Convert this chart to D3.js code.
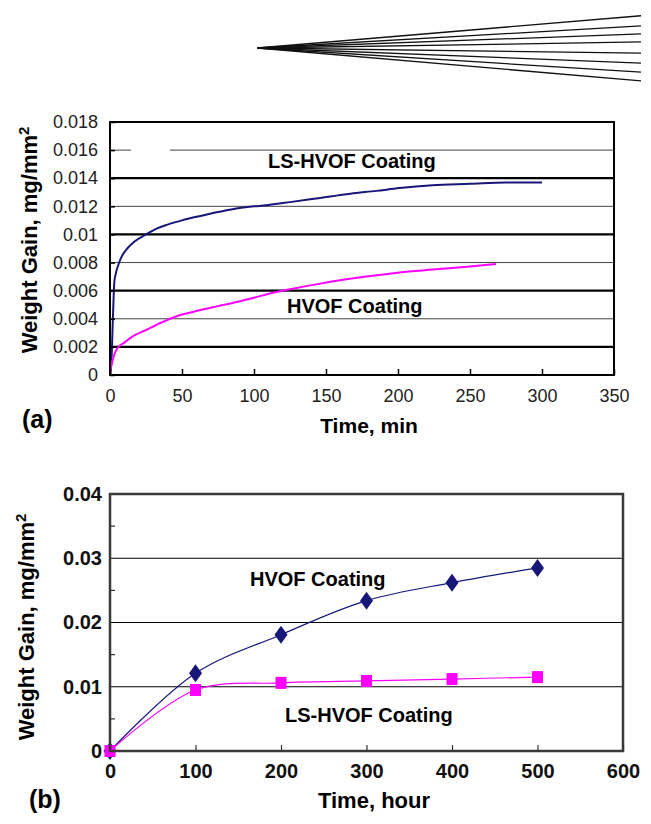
<!DOCTYPE html>
<html>
<head>
<meta charset="utf-8">
<script src="https://cdn.jsdelivr.net/npm/d3@7"></script>
<style>
  body { margin: 0; background: #fff; }
  svg { display: block; font-family: "Liberation Sans", Arial, sans-serif; }
</style>
</head>
<body>
<div class="canvas"></div>
<script>
// Panel (a): weight gain during the first minutes
const lsTimeA = [0, 1, 2, 2.5, 3, 4, 6, 8, 12, 17, 25, 32, 40, 50, 62, 75, 85, 100, 110, 125, 146, 167, 185, 201, 224, 250, 275, 300];
const lsGainA = [0, 0.001, 0.004, 0.0055, 0.0066, 0.0072, 0.0079, 0.0084, 0.009, 0.0095, 0.01, 0.0104, 0.0107, 0.011, 0.0113, 0.0116, 0.0118, 0.012, 0.0121, 0.0123, 0.0126, 0.0129, 0.0131, 0.0133, 0.0135, 0.0136, 0.0137, 0.0137];
const hvTimeA = [0, 1, 2, 3.5, 6, 10, 15, 25, 35, 50, 62, 75, 88, 100, 111, 125, 146, 178, 201, 224, 248, 268];
const hvGainA = [0, 0.0007, 0.0011, 0.0016, 0.002, 0.0023, 0.0027, 0.0032, 0.0037, 0.0043, 0.0046, 0.0049, 0.0052, 0.0055, 0.0058, 0.0061, 0.0065, 0.007, 0.0073, 0.0075, 0.0077, 0.0079];
const xTicksA = [0, 50, 100, 150, 200, 250, 300, 350];
const yTicksA = [0, 0.002, 0.004, 0.006, 0.008, 0.01, 0.012, 0.014, 0.016, 0.018];

// Panel (b): weight gain over hours
const timeB = [0, 100, 200, 300, 400, 500];
const hvGainB = [0, 0.0121, 0.0181, 0.0234, 0.0262, 0.0285];
const lsGainB = [0, 0.0095, 0.0106, 0.0109, 0.0112, 0.0115];
const xTicksB = [0, 100, 200, 300, 400, 500, 600];
const yTicksB = [0, 0.01, 0.02, 0.03, 0.04];
const yMinorB = [0.005, 0.015, 0.025, 0.035];

// Decorative fan in the top corner (angles in degrees)
const fanAngles = [-4.8, -3.3, -2.1, -0.9, 0.75, 2.25, 3.6, 4.9];

const navy = '#17177a';
const pink = '#ff00ff';
const fmt = d => String(+d.toFixed(3));

const svg = d3.select('.canvas')
    .append('svg')
    .attr('width', 651)
    .attr('height', 824);

svg.append('rect').attr('width', 651).attr('height', 824).attr('fill', '#fff');

// Fan lines
const fan = svg.append('g').attr('transform', 'translate(257, 48)');
fan.selectAll('line')
    .data(fanAngles)
    .enter()
    .append('line')
        .attr('x1', 0).attr('y1', 0)
        .attr('x2', 384)
        .attr('y2', d => 384 * Math.tan(d * Math.PI / 180))
        .attr('stroke', '#111')
        .attr('stroke-width', 1.3);

// ---------- Panel (a) ----------
const xA = d3.scaleLinear().domain([0, 350]).range([110, 614]);
const yA = d3.scaleLinear().domain([0, 0.018]).range([375, 122]);
const gA = svg.append('g');

// gridlines: heavy and light alternate
gA.selectAll('line.grid')
    .data(yTicksA.slice(1, -1))
    .enter()
    .append('line')
        .attr('class', 'grid')
        .attr('x1', xA(0)).attr('x2', xA(350))
        .attr('y1', d => yA(d)).attr('y2', d => yA(d))
        .attr('stroke', (d, i) => i % 2 === 0 ? '#000' : '#444')
        .attr('stroke-width', (d, i) => i % 2 === 0 ? 2.2 : 1);

// blank patch on the top light gridline
gA.append('rect')
    .attr('x', 131).attr('y', yA(0.016) - 3)
    .attr('width', 39).attr('height', 6)
    .attr('fill', '#fff');

const lineA = d3.line()
    .x(d => xA(d[0]))
    .y(d => yA(d[1]))
    .curve(d3.curveMonotoneX);

gA.append('path')
    .attr('d', lineA(d3.zip(lsTimeA, lsGainA)))
    .attr('fill', 'none')
    .attr('stroke', navy)
    .attr('stroke-width', 2);

gA.append('path')
    .attr('d', lineA(d3.zip(hvTimeA, hvGainA)))
    .attr('fill', 'none')
    .attr('stroke', pink)
    .attr('stroke-width', 2);

gA.append('rect')
    .attr('x', xA(0)).attr('y', yA(0.018))
    .attr('width', xA(350) - xA(0)).attr('height', yA(0) - yA(0.018))
    .attr('fill', 'none')
    .attr('stroke', '#000')
    .attr('stroke-width', 2);

const axisAy = gA.append('g')
    .attr('transform', `translate(${xA(0)},0)`)
    .call(d3.axisLeft(yA).tickValues(yTicksA).tickFormat(fmt).tickSize(-5).tickPadding(12));
const axisAx = gA.append('g')
    .attr('transform', `translate(0,${yA(0)})`)
    .call(d3.axisBottom(xA).tickValues(xTicksA).tickSize(-6).tickPadding(14));
[axisAy, axisAx].forEach(ax => {
    ax.select('.domain').remove();
    ax.selectAll('line').attr('stroke', '#000').attr('stroke-width', 1.5);
    ax.selectAll('text')
        .attr('font-size', 18)
        .attr('fill', '#222')
        .attr('font-family', '"Liberation Sans", Arial, sans-serif');
});

gA.append('text')
    .attr('x', 268).attr('y', 168)
    .attr('font-size', 20).attr('font-weight', 'bold')
    .text('LS-HVOF Coating');
gA.append('text')
    .attr('x', 287).attr('y', 313)
    .attr('font-size', 20).attr('font-weight', 'bold')
    .text('HVOF Coating');
gA.append('text')
    .attr('x', 369).attr('y', 433)
    .attr('text-anchor', 'middle')
    .attr('font-size', 21).attr('font-weight', 'bold')
    .text('Time, min');
gA.append('text')
    .attr('x', 22).attr('y', 428)
    .attr('font-size', 25).attr('font-weight', 'bold')
    .text('(a)');

const yTitle = (g, cx, cy) => {
    const t = g.append('text')
        .attr('transform', `translate(${cx},${cy}) rotate(-90)`)
        .attr('text-anchor', 'middle')
        .attr('font-size', 22).attr('font-weight', 'bold');
    t.append('tspan').text('Weight Gain, mg/mm');
    t.append('tspan').attr('dy', -8).attr('font-size', 15).text('2');
};
yTitle(gA, 37, 240);

// ---------- Panel (b) ----------
const xB = d3.scaleLinear().domain([0, 600]).range([110, 623]);
const yB = d3.scaleLinear().domain([0, 0.04]).range([751, 494]);
const gB = svg.append('g');

gB.selectAll('line.grid')
    .data(yTicksB.slice(1, -1))
    .enter()
    .append('line')
        .attr('class', 'grid')
        .attr('x1', xB(0)).attr('x2', xB(600))
        .attr('y1', d => yB(d)).attr('y2', d => yB(d))
        .attr('stroke', '#000')
        .attr('stroke-width', 1);

const lineB = d3.line()
    .x(d => xB(d[0]))
    .y(d => yB(d[1]))
    .curve(d3.curveCatmullRom.alpha(0.5));

gB.append('path')
    .attr('d', lineB(d3.zip(timeB, hvGainB)))
    .attr('fill', 'none')
    .attr('stroke', navy)
    .attr('stroke-width', 1.2);
gB.append('path')
    .attr('d', lineB(d3.zip(timeB, lsGainB)))
    .attr('fill', 'none')
    .attr('stroke', pink)
    .attr('stroke-width', 1.2);

gB.selectAll('path.diamond')
    .data(d3.zip(timeB, hvGainB))
    .enter()
    .append('path')
        .attr('class', 'diamond')
        .attr('d', 'M0,-9L6.5,0L0,9L-6.5,0Z')
        .attr('transform', d => `translate(${xB(d[0])},${yB(d[1])})`)
        .attr('fill', navy);

gB.selectAll('rect.square')
    .data(d3.zip(timeB, lsGainB))
    .enter()
    .append('rect')
        .attr('class', 'square')
        .attr('x', d => xB(d[0]) - 5.5)
        .attr('y', d => yB(d[1]) - 6)
        .attr('width', 11).attr('height', 12)
        .attr('fill', pink);

gB.append('rect')
    .attr('x', xB(0)).attr('y', yB(0.04))
    .attr('width', xB(600) - xB(0)).attr('height', yB(0) - yB(0.04))
    .attr('fill', 'none')
    .attr('stroke', '#3a3a3a')
    .attr('stroke-width', 2.5);

const axisBy = gB.append('g')
    .attr('transform', `translate(${xB(0)},0)`)
    .call(d3.axisLeft(yB).tickValues(yTicksB).tickFormat(fmt).tickSize(0).tickPadding(8));
const axisBx = gB.append('g')
    .attr('transform', `translate(0,${yB(0)})`)
    .call(d3.axisBottom(xB).tickValues(xTicksB).tickSize(-6).tickPadding(13));
[axisBy, axisBx].forEach(ax => {
    ax.select('.domain').remove();
    ax.selectAll('line').attr('stroke', '#333').attr('stroke-width', 1.2);
    ax.selectAll('text')
        .attr('font-size', 20)
        .attr('font-weight', 'bold')
        .attr('fill', '#111')
        .attr('font-family', '"Liberation Sans", Arial, sans-serif');
});

gB.selectAll('line.minor')
    .data(yMinorB)
    .enter()
    .append('line')
        .attr('class', 'minor')
        .attr('x1', xB(0)).attr('x2', xB(0) + 5)
        .attr('y1', d => yB(d)).attr('y2', d => yB(d))
        .attr('stroke', '#333')
        .attr('stroke-width', 1.2);

gB.append('text')
    .attr('x', 250).attr('y', 586)
    .attr('font-size', 20).attr('font-weight', 'bold')
    .text('HVOF Coating');
gB.append('text')
    .attr('x', 285).attr('y', 722)
    .attr('font-size', 20).attr('font-weight', 'bold')
    .text('LS-HVOF Coating');
gB.append('text')
    .attr('x', 374).attr('y', 808)
    .attr('text-anchor', 'middle')
    .attr('font-size', 22).attr('font-weight', 'bold')
    .text('Time, hour');
gB.append('text')
    .attr('x', 29).attr('y', 808)
    .attr('font-size', 25).attr('font-weight', 'bold')
    .text('(b)');

yTitle(gB, 34, 627);
</script>
</body>
</html>
